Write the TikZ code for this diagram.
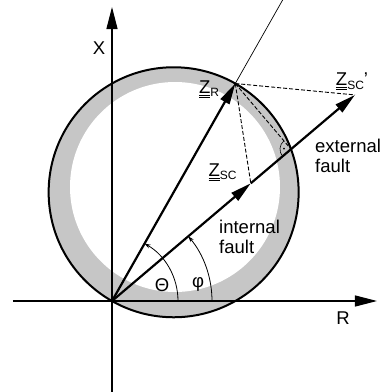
\documentclass[tikz,border=0pt]{standalone}
\usepackage{fontspec}
\setmainfont{Liberation Sans}
\usetikzlibrary{arrows.meta}
\definecolor{ringgray}{RGB}{198,198,198}
\newcommand{\zimp}[1]{\underline{\underline{Z}}\raisebox{-3.5pt}{\fontsize{12}{12}\selectfont #1}}

\begin{document}
\begin{tikzpicture}[x=1pt,y=1pt,every node/.style={inner sep=0pt,font=\fontsize{18.5}{20}\selectfont},
 vec/.style={line width=2.2pt,-{Triangle[length=21pt,width=10pt]}},
 axis/.style={line width=1.2pt,-{Triangle[length=22pt,width=11pt]}},
 aux/.style={line width=0.9pt,dash pattern=on 4pt off 2pt},
 ang/.style={line width=0.8pt,-{Stealth[length=6pt,width=4pt]}}]
\useasboundingbox (-112,-91) rectangle (270,301);
\coordinate (o) at (0,0);
\coordinate (zr) at (60.45:250);
\coordinate (zsc) at (40.3:182);
\coordinate (zscp) at (40.3:318.6);
\coordinate (f) at (40.3:234.7);
\coordinate (c) at (60.45:125);
\coordinate (top) at (60.45:350);
\coordinate (xlo) at (0,-91); \coordinate (xhi) at (0,294);
\coordinate (rlo) at (-99,0); \coordinate (rhi) at (265,0);
% ring
\fill[ringgray] (c) circle (125pt);
\fill[white] (63,114) circle (105pt);
\draw[line width=2pt] (c) circle (125pt);
% axes
\draw[axis] (xlo) -- (xhi);
\draw[axis] (rlo) -- (rhi);
\draw[line width=0.7pt] (o) -- (top);
% angles
\draw[ang] (66,0) arc[start angle=0,end angle=60.45,radius=66pt];
\draw[ang] (100,0) arc[start angle=0,end angle=40.3,radius=100pt];
\draw[line width=0.6pt] (f) ++(130.3:11) arc[start angle=130.3,end angle=220.3,radius=11pt];
\fill (f) ++(175.3:7) circle (0.9pt);
% dashed
\draw[aux] (zr) -- (zscp); \draw[aux] (zr) -- (zsc); \draw[aux] (zr) -- (f);
% vectors
\draw[vec] (o) -- (zr); \draw[vec] (o) -- (zsc); \draw[vec] (zsc) -- (zscp);
% labels
\node (lx) at (-13,253) {X};
\node (lr) at (231,-17.5) {R};
\node (lzr) at (97,212) {\zimp{R}};
\node (lzsc) at (110.5,129) {\zimp{SC}};
\node (lzscp) at (240,219.5) {\zimp{SC}'};
\node[anchor=west,align=left] (lint) at (107,64.6) {internal\\fault};
\node[anchor=west,align=left] (lext) at (203,145) {external\\fault};
\node (lth) at (50,16) {Θ};
\node (lphi) at (86,17) {φ};
\end{tikzpicture}
\end{document}
